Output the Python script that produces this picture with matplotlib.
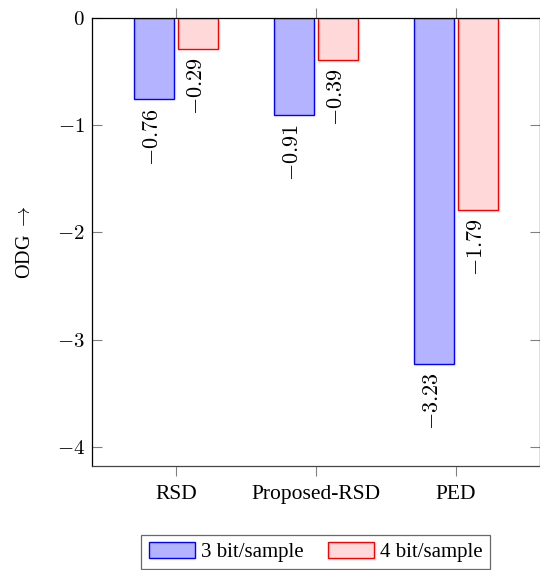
import numpy as np
from matplotlib import pyplot as plt

plt.rcParams['font.family'] = ['Liberation Serif', 'DejaVu Serif']
plt.rcParams['mathtext.fontset'] = 'cm'

methods = ['RSD', 'Proposed-RSD', 'PED']
odg_3bit = [-0.76, -0.91, -3.23]
odg_4bit = [-0.29, -0.39, -1.79]
series_names = ['3 bit/sample', '4 bit/sample']
yticks = [0, -1, -2, -3, -4]

fig = plt.figure(figsize=(5.4, 5.7), dpi=100)
ax = fig.add_axes([0.170, 0.1825, 0.830, 0.786])

x = np.arange(len(methods))
w = 0.286
off = 0.157
b1 = ax.bar(x - off, odg_3bit, w, color='#b3b3ff', edgecolor='blue', linewidth=1.0, label=series_names[0])
b2 = ax.bar(x + off, odg_4bit, w, color='#ffd9d9', edgecolor='red', linewidth=1.0, label=series_names[1])

for bars, vals in [(b1, odg_3bit), (b2, odg_4bit)]:
  for rect, v in zip(bars, vals):
    ax.annotate('$%.2f$' % v, (rect.get_x() + rect.get_width() / 2, v),
                xytext=(0, -6), textcoords='offset points',
                ha='center', va='top', rotation=90, fontsize=16)

ax.set_xlim(-0.6, 2.6)
ax.set_ylim(-4.18, 0)
ax.set_xticks(x)
ax.set_xticklabels(methods, fontsize=15.5)
ax.set_yticks(yticks)
ax.set_yticklabels(['$%d$' % t if t == 0 else '$-%d$' % abs(t) for t in yticks], fontsize=15)
ax.tick_params(axis='x', direction='out', top=True, length=7, color='grey', pad=7)
ax.tick_params(axis='y', direction='in', right=True, length=7, color='grey', pad=5)
for s in ax.spines.values():
  s.set_linewidth(0.9)
ax.spines['bottom'].set_color('#444444')
ax.set_ylabel('ODG $\\rightarrow$', fontsize=14.5, labelpad=16)

leg = ax.legend(loc='upper center', bbox_to_anchor=(0.5, -0.154), ncol=2, fontsize=15,
                frameon=True, fancybox=False, edgecolor='#444444', handlelength=2.2,
                handleheight=0.75, columnspacing=1.2, handletextpad=0.3, borderpad=0.35,
                borderaxespad=0)
leg.get_frame().set_linewidth(0.9)

fig.savefig('out.png', dpi=100)
